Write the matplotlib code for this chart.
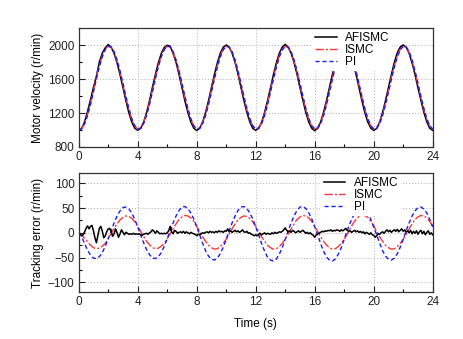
import numpy as np
import matplotlib
matplotlib.use("Agg")
import matplotlib.pyplot as plt
from matplotlib.ticker import MultipleLocator

plt.rcParams["font.family"] = ["Liberation Sans", "DejaVu Sans"]
plt.rcParams["font.size"] = 8

# ---- data -----------------------------------------------------------------
# coarse grid: 0 .. 24 s, step 0.2 s (121 samples)
t_coarse = np.linspace(0, 24, 121)

# reference speed command (r/min)
speed_ref = [
    1000, 1024, 1095, 1206, 1345, 1500, 1655, 1794, 1905, 1976,
    2000, 1976, 1905, 1794, 1655, 1500, 1345, 1206, 1095, 1024,
    1000, 1024, 1095, 1206, 1345, 1500, 1655, 1794, 1905, 1976,
    2000, 1976, 1905, 1794, 1655, 1500, 1345, 1206, 1095, 1024,
    1000, 1024, 1095, 1206, 1345, 1500, 1655, 1794, 1905, 1976,
    2000, 1976, 1905, 1794, 1655, 1500, 1345, 1206, 1095, 1024,
    1000, 1024, 1095, 1206, 1345, 1500, 1655, 1794, 1905, 1976,
    2000, 1976, 1905, 1794, 1655, 1500, 1345, 1206, 1095, 1024,
    1000, 1024, 1095, 1206, 1345, 1500, 1655, 1794, 1905, 1976,
    2000, 1976, 1905, 1794, 1655, 1500, 1345, 1206, 1095, 1024,
    1000, 1024, 1095, 1206, 1345, 1500, 1655, 1794, 1905, 1976,
    2000, 1976, 1905, 1794, 1655, 1500, 1345, 1206, 1095, 1024,
    1000,
]

# tracking error of PI (r/min)
err_pi = [
    0, -8, -22, -35, -45, -51, -52, -48, -40, -27,
    -12, 4, 20, 34, 44, 51, 52, 48, 40, 27,
    12, -4, -20, -34, -44, -51, -52, -48, -40, -27,
    -12, 4, 20, 34, 45, 52, 53, 49, 40, 28,
    12, -4, -21, -36, -47, -53, -55, -51, -42, -29,
    -13, 4, 20, 34, 45, 52, 53, 49, 40, 28,
    12, -4, -22, -37, -49, -55, -57, -53, -43, -30,
    -13, 4, 20, 34, 45, 52, 53, 49, 40, 28,
    12, -4, -22, -37, -49, -55, -57, -53, -43, -30,
    -13, 4, 20, 33, 44, 50, 51, 47, 39, 27,
    12, -4, -21, -36, -47, -53, -55, -51, -42, -29,
    -13, 4, 20, 34, 44, 51, 52, 48, 40, 27,
    12,
]

# tracking error of ISMC (r/min)
err_ismc = [
    0, -4, -11, -18, -25, -30, -32, -31, -27, -21,
    -12, -2, 8, 18, 26, 31, 34, 33, 29, 22,
    13, 3, -7, -17, -24, -30, -32, -31, -27, -21,
    -12, -2, 8, 18, 27, 32, 35, 34, 30, 23,
    13, 3, -8, -17, -25, -30, -33, -32, -28, -21,
    -13, -3, 8, 18, 26, 31, 34, 33, 29, 22,
    13, 3, -8, -17, -25, -30, -33, -32, -28, -21,
    -13, -3, 8, 18, 27, 32, 35, 34, 30, 23,
    13, 3, -8, -17, -25, -30, -33, -32, -28, -21,
    -13, -3, 8, 19, 27, 33, 36, 35, 31, 23,
    14, 3, -8, -17, -25, -30, -33, -32, -28, -21,
    -13, -3, 8, 18, 27, 32, 35, 34, 30, 23,
    13,
]

# fine grid for AFISMC: 0 .. 24 s, step 0.1 s (241 samples)
t_fine = np.linspace(0, 24, 241)
err_afismc = [
    1, -2, -6, -4, 2, 9, 14, 8, 13, 15,
    4, -10, -20, -6, 9, 13, 3, -10, -6, 2,
    8, 9, 2, -7, -2, 8, 0, -9, -2, 6,
    1, -4, 1, -1, -3, -2, -3, -1, -3, -2,
    -3, -2, -4, -5, -3, -2, -1, -3, 0, 2,
    6, 3, -1, 4, 1, -2, -1, -2, -1, -2,
    0, 4, 13, 2, -2, 5, 3, -1, 1, 2,
    0, 3, -1, 2, 0, -2, 1, -1, -2, -3,
    -6, -3, -4, -2, 0, -1, 1, 2, 0, 3,
    1, 2, 0, 3, 1, 4, 2, 3, 1, 4,
    3, 8, 2, 4, 1, 3, 5, 2, 4, 1,
    3, 6, 2, 1, 3, -1, 0, -3, -4, -6,
    -4, -6, -3, -1, -4, -2, 0, -3, -1, -2,
    -3, 0, -2, 1, -1, 0, 2, 1, 3, 6,
    10, 5, 2, 4, 1, 5, 3, 0, 2, 4,
    1, 3, 5, 2, -1, 1, -2, 0, -3, -5,
    -9, -4, -2, -1, 1, 3, 2, 4, 3, 5,
    4, 6, 3, 5, 4, 6, 5, 3, 6, 4,
    6, 9, 5, 3, 4, 1, 3, 5, 2, 4,
    1, 3, 0, 2, -2, 1, -1, -3, 0, -4,
    -5, -9, -6, -2, -3, 0, 2, -1, 3, 6,
    2, 5, 1, 4, 6, 3, 7, 2, 5, 8,
    3, 6, 1, 4, 0, 5, -2, 3, -1, 4,
    -3, 2, 5, -2, 3, -4, 1, 4, -3, 0,
    -4,
]

labels = ["AFISMC", "ISMC", "PI"]

# measured speeds = command + tracking error
ref = np.array(speed_ref, dtype=float)
vel_afismc = ref + np.array(err_afismc[::2], dtype=float)
vel_ismc = ref + np.array(err_ismc, dtype=float)
vel_pi = ref + np.array(err_pi, dtype=float)

C_AF, C_IS, C_PI = "#000000", "#ff3535", "#1a1aff"
LS_IS = (0, (6, 1.5, 1.5, 1.5))
LS_PI = (0, (3, 2))

fig = plt.figure(figsize=(4.63, 3.39), dpi=100)
ax1 = fig.add_axes([0.170, 0.5664, 0.7646, 0.3501])
ax2 = fig.add_axes([0.170, 0.1377, 0.7646, 0.3511])


def white_legend(ax, handles, labs, x0):
    leg = ax.legend(handles, labs, loc="upper left", bbox_to_anchor=(x0, 0.995),
                    borderaxespad=0.0, frameon=True, fontsize=8.5,
                    handlelength=1.8, labelspacing=0.0, borderpad=0.25,
                    handletextpad=0.7)
    fr = leg.get_frame()
    fr.set_edgecolor("none")
    fr.set_facecolor("white")
    fr.set_alpha(1.0)
    return leg


# ── top: motor velocity ──
ax1.plot(t_coarse, vel_afismc, color=C_AF, lw=1.1, label=labels[0])
ax1.plot(t_coarse, vel_ismc, color=C_IS, lw=1.0, ls=LS_IS, label=labels[1])
ax1.plot(t_coarse, vel_pi, color=C_PI, lw=1.0, ls=LS_PI, label=labels[2])
ax1.set_ylim(800, 2200)
ax1.yaxis.set_major_locator(MultipleLocator(400))
ax1.yaxis.set_minor_locator(MultipleLocator(200))
ax1.set_ylabel("Motor velocity (r/min)", fontsize=8.5, labelpad=3)
h, l = ax1.get_legend_handles_labels()
white_legend(ax1, h, l, 0.66)

# ── bottom: tracking error ──
ax2.plot(t_coarse, err_ismc, color=C_IS, lw=1.0, ls=LS_IS, label=labels[1], zorder=2)
ax2.plot(t_coarse, err_pi, color=C_PI, lw=1.0, ls=LS_PI, label=labels[2], zorder=2)
ax2.plot(t_fine, err_afismc, color=C_AF, lw=1.1, label=labels[0], zorder=3)
ax2.set_ylim(-120, 120)
ax2.yaxis.set_major_locator(MultipleLocator(50))
ax2.yaxis.set_minor_locator(MultipleLocator(25))
ax2.set_ylabel("Tracking error (r/min)", fontsize=8.5, labelpad=3)
ax2.set_xlabel("Time (s)", fontsize=8.5, labelpad=7)
h, l = ax2.get_legend_handles_labels()
order = [2, 0, 1]
white_legend(ax2, [h[i] for i in order], [l[i] for i in order], 0.685)

for ax in (ax1, ax2):
    ax.set_xlim(0, 24)
    ax.xaxis.set_major_locator(MultipleLocator(4))
    ax.xaxis.set_minor_locator(MultipleLocator(2))
    ax.tick_params(which="major", direction="in", length=4, width=0.8,
                   labelsize=8.5, colors="#222222", pad=3)
    ax.tick_params(which="minor", direction="in", length=2, width=0.8)
    ax.grid(which="major", ls=(0, (1, 2)), color="#b0b0b0", lw=0.7)
    for s in ax.spines.values():
        s.set_linewidth(0.9)
        s.set_color("#333333")
        s.set_zorder(6)
    ax.set_axisbelow(True)

fig.savefig("out.png", dpi=100)
